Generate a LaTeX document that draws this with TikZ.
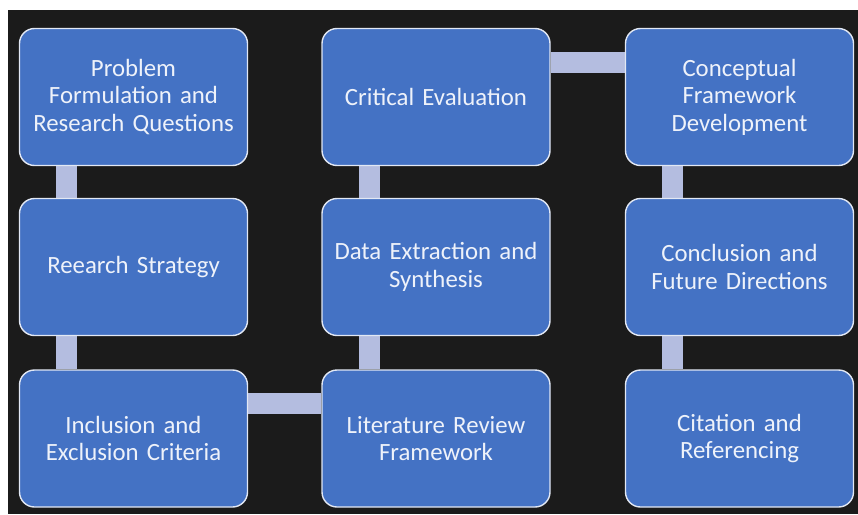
\documentclass[tikz,border=0pt]{standalone}
\usepackage{fontspec}
\setmainfont{Carlito}
\usetikzlibrary{backgrounds}
\definecolor{boxblue}{HTML}{4472C4}
\definecolor{boxedge}{HTML}{E2E8F4}
\definecolor{linkcol}{HTML}{B4BDE0}
\definecolor{bgdark}{HTML}{1B1B1B}
\definecolor{txtcol}{HTML}{EEF2FA}
\tikzset{
  stagebox/.style={draw=boxedge, line width=1.4pt, fill=boxblue, rounded corners=15pt,
    minimum width=228pt, minimum height=137pt, inner sep=0pt, text width=215pt,
    align=center, text=txtcol, font=\fontsize{24.8}{27.5}\selectfont},
  link/.style={draw=linkcol, line width=21pt},
}
\begin{document}
\begin{tikzpicture}[x=1pt,y=-1pt]
\useasboundingbox (0,0) rectangle (858,514);
% stage boxes, three columns by three rows
\node[stagebox] (prob) at (133.5,97) {Problem\\Formulation and\\Research Questions};
\node[stagebox] (strat) at (133.5,267) {Reearch Strategy};
\node[stagebox] (incl) at (133.5,438.5) {Inclusion and\\Exclusion Criteria};
\node[stagebox] (crit) at (436,97) {Critical Evaluation};
\node[stagebox] (data) at (436,267) {Data Extraction and\\Synthesis};
\node[stagebox] (lit) at (436,438.5) {Literature Review\\Framework};
\node[stagebox] (conc) at (739.5,97) {Conceptual\\Framework\\Development};
\node[stagebox] (futr) at (739.5,267) {Conclusion and\\Future Directions};
\node[stagebox] (cite) at (739.5,438.5) {Citation and\\Referencing};
\begin{scope}[on background layer]
  \fill[white] (0,0) rectangle (858,514);
  \fill[bgdark] (8,10) rectangle (858,514);
  % bars joining the stages
  \draw[link] ([xshift=-67pt]prob.south) -- ([xshift=-67pt]strat.north);
  \draw[link] ([xshift=-67pt]strat.south) -- ([xshift=-67pt]incl.north);
  \draw[link] ([yshift=35pt]incl.east) -- ([yshift=35pt]lit.west);
  \draw[link] ([xshift=-67pt]lit.north) -- ([xshift=-67pt]data.south);
  \draw[link] ([xshift=-67pt]data.north) -- ([xshift=-67pt]crit.south);
  \draw[link] ([yshift=35pt]crit.east) -- ([yshift=35pt]conc.west);
  \draw[link] ([xshift=-67pt]conc.south) -- ([xshift=-67pt]futr.north);
  \draw[link] ([xshift=-67pt]futr.south) -- ([xshift=-67pt]cite.north);
\end{scope}
\end{tikzpicture}
\end{document}
